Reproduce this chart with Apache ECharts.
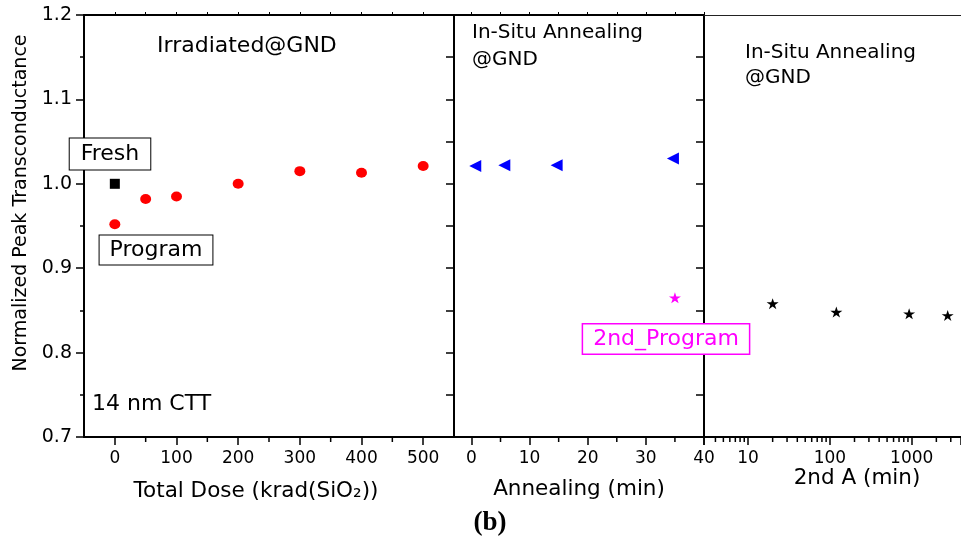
<!DOCTYPE html>
<html>
<head>
<meta charset="utf-8">
<script src="https://cdn.jsdelivr.net/npm/echarts@6/dist/echarts.min.js"></script>
<style>
  html, body { margin: 0; padding: 0; background: #fff; }
  #chart { width: 961px; height: 545px; }
</style>
</head>
<body>
<div id="chart"></div>
<script>
// ---- Panel 1: total-dose irradiation ----
const freshDose = [0];
const freshGm = [1.000];
const doseKrad = [0, 50, 100, 200, 300, 400, 500];
const doseGm = [0.952, 0.982, 0.985, 1.000, 1.015, 1.013, 1.021];

// ---- Panel 2: in-situ annealing ----
const annealMin = [1, 6, 15, 35];
const annealGm = [1.021, 1.022, 1.022, 1.030];
const reprogMin = [35];
const reprogGm = [0.865];

// ---- Panel 3: second anneal, log time ----
const anneal2Min = [20, 120, 930, 2750];
const anneal2Gm = [0.858, 0.848, 0.846, 0.844];

// ---- Tick values ----
const doseTicks = [0, 100, 200, 300, 400, 500];
const doseMinorTicks = [50, 150, 250, 350, 450];
const annealTicks = [0, 10, 20, 30, 40];
const annealMinorTicks = [5, 15, 25, 35];
const logTicks = [10, 100, 1000];
const logMinorTicks = [4, 5, 6, 7, 8, 9, 20, 30, 40, 50, 60, 70, 80, 90,
                       200, 300, 400, 500, 600, 700, 800, 900, 2000, 3000];
const gmMin = 0.7, gmMax = 1.2;

const FONT = 'DejaVu Sans';
const chart = echarts.init(document.getElementById('chart'));

const axisLine = { show: true, onZero: false, lineStyle: { color: '#000', width: 2 } };
const tickLine = { color: '#000', width: 1.5 };
const tickFont = { color: '#000', fontFamily: FONT, fontSize: 17 };

// short minor tick marks below a panel's x axis, placed through that axis' scale
function minorTicks(xi, yi, values) {
  return {
    type: 'custom', xAxisIndex: xi, yAxisIndex: yi, silent: true, clip: false, z: 5,
    data: values.map(v => [v, gmMin]),
    renderItem: (params, api) => {
      const p = api.coord([api.value(0), api.value(1)]);
      return {
        type: 'line',
        shape: { x1: p[0], y1: p[1], x2: p[0], y2: p[1] + 5 },
        style: { stroke: '#000', lineWidth: 1.5 }
      };
    }
  };
}

const star = 'path://M50,0 L61.2,34.5 L97.6,34.5 L68.2,55.9 L79.4,90.5 L50,69.1 L20.6,90.5 L31.8,55.9 L2.4,34.5 L38.8,34.5 Z';

function txt(text, x, y, size, extra) {
  return {
    type: 'text', x: x, y: y, z: 100,
    style: Object.assign({
      text: text, fontFamily: FONT, fontSize: size, fill: '#000',
      align: 'left', verticalAlign: 'middle'
    }, extra || {})
  };
}

const gridBase = { top: 15, height: 422, containLabel: false, outerBoundsMode: 'none' };

const option = {
  backgroundColor: '#fff',
  animation: false,
  grid: [
    Object.assign({ left: 84, width: 370 }, gridBase),
    Object.assign({ left: 454, width: 250 }, gridBase),
    Object.assign({ left: 704, width: 257 }, gridBase)
  ],
  xAxis: [
    { gridIndex: 0, type: 'value', position: 'bottom', min: -50, max: 550,
      axisLine: axisLine,
      axisTick: { show: true, length: 8, lineStyle: tickLine, customValues: doseTicks },
      axisLabel: Object.assign({ margin: 13, customValues: doseTicks }, tickFont),
      splitLine: { show: false } },
    { gridIndex: 0, type: 'value', position: 'top', min: -50, max: 550,
      axisLine: axisLine,
      axisTick: { show: true, length: 3, lineStyle: { color: '#000', width: 1 },
                  customValues: doseTicks.concat(doseMinorTicks) },
      axisLabel: { show: false }, splitLine: { show: false } },
    { gridIndex: 1, type: 'value', position: 'bottom', min: -3, max: 40,
      axisLine: axisLine,
      axisTick: { show: true, length: 8, lineStyle: tickLine, customValues: annealTicks },
      axisLabel: Object.assign({ margin: 13, customValues: annealTicks }, tickFont),
      splitLine: { show: false } },
    { gridIndex: 1, type: 'value', position: 'top', min: -3, max: 40,
      axisLine: axisLine,
      axisTick: { show: true, length: 3, lineStyle: { color: '#000', width: 1 },
                  customValues: annealTicks.concat(annealMinorTicks) },
      axisLabel: { show: false }, splitLine: { show: false } },
    { gridIndex: 2, type: 'log', logBase: 10, position: 'bottom', min: 2.9, max: 4000,
      axisLine: axisLine,
      axisTick: { show: true, length: 8, lineStyle: tickLine },
      axisLabel: Object.assign({
        margin: 13,
        formatter: v => {
          const hit = logTicks.find(t => Math.abs(t - v) / t < 1e-6);
          return hit ? String(hit) : '';
        }
      }, tickFont),
      splitLine: { show: false } },
    { gridIndex: 2, type: 'log', logBase: 10, position: 'top', min: 2.9, max: 4000,
      axisLine: { show: true, lineStyle: { color: '#222', width: 1.2 } },
      axisTick: { show: false }, axisLabel: { show: false }, splitLine: { show: false } }
  ],
  yAxis: [
    { gridIndex: 0, type: 'value', position: 'left', min: gmMin, max: gmMax, interval: 0.1,
      axisLine: axisLine,
      axisTick: { show: true, length: 8, lineStyle: tickLine },
      minorTick: { show: true, splitNumber: 2, length: 4, lineStyle: tickLine },
      axisLabel: Object.assign({ margin: 12, formatter: v => v.toFixed(1) }, tickFont, { fontSize: 19 }),
      splitLine: { show: false }, minorSplitLine: { show: false } },
    { gridIndex: 0, type: 'value', position: 'right', min: gmMin, max: gmMax, interval: 0.05,
      axisLine: axisLine,
      axisTick: { show: true, inside: true, length: 7, lineStyle: tickLine },
      axisLabel: { show: false }, splitLine: { show: false } },
    { gridIndex: 1, type: 'value', position: 'left', min: gmMin, max: gmMax, interval: 0.05,
      axisLine: axisLine,
      axisTick: { show: true, length: 8, lineStyle: tickLine },
      axisLabel: { show: false }, splitLine: { show: false } },
    { gridIndex: 1, type: 'value', position: 'right', min: gmMin, max: gmMax, interval: 0.05,
      axisLine: axisLine,
      axisTick: { show: true, inside: true, length: 8, lineStyle: tickLine },
      axisLabel: { show: false }, splitLine: { show: false } },
    { gridIndex: 2, type: 'value', position: 'left', min: gmMin, max: gmMax, interval: 0.05,
      axisLine: axisLine,
      axisTick: { show: true, length: 8, lineStyle: tickLine },
      axisLabel: { show: false }, splitLine: { show: false } }
  ],
  series: [
    { name: 'Fresh', type: 'scatter', xAxisIndex: 0, yAxisIndex: 0,
      data: freshDose.map((x, i) => [x, freshGm[i]]),
      symbol: 'rect', symbolSize: 10, itemStyle: { color: '#000', opacity: 1 }, z: 10 },
    { name: 'Irradiated', type: 'scatter', xAxisIndex: 0, yAxisIndex: 0,
      data: doseKrad.map((x, i) => [x, doseGm[i]]),
      symbol: 'circle', symbolSize: [11, 10], itemStyle: { color: '#ff0000', opacity: 1 }, z: 10 },
    { name: 'Annealing', type: 'scatter', xAxisIndex: 2, yAxisIndex: 2,
      data: annealMin.map((x, i) => [x, annealGm[i]]),
      symbol: 'triangle', symbolRotate: 90, symbolSize: 12, symbolOffset: [-2, 0],
      itemStyle: { color: '#0000ff', opacity: 1 }, z: 10 },
    { name: '2nd_Program', type: 'scatter', xAxisIndex: 2, yAxisIndex: 2,
      data: reprogMin.map((x, i) => [x, reprogGm[i]]),
      symbol: star, symbolSize: [12, 11], itemStyle: { color: '#ff00ff', opacity: 1 }, z: 10 },
    { name: '2nd Anneal', type: 'scatter', xAxisIndex: 4, yAxisIndex: 4,
      data: anneal2Min.map((x, i) => [x, anneal2Gm[i]]),
      symbol: star, symbolSize: [12, 11], itemStyle: { color: '#000', opacity: 1 }, z: 10 },
    minorTicks(0, 0, doseMinorTicks),
    minorTicks(2, 2, annealMinorTicks),
    minorTicks(4, 4, logMinorTicks)
  ],
  graphic: [
    txt('Irradiated@GND', 157, 46, 22),
    txt('In-Situ Annealing', 472, 33, 20),
    txt('@GND', 472, 60, 20),
    txt('In-Situ Annealing', 745, 53, 20),
    txt('@GND', 745, 78, 20),
    txt('14 nm CTT', 92, 404, 22),
    txt('Fresh', 110, 154, 22, {
      align: 'center', backgroundColor: '#fff', borderColor: '#000', borderWidth: 1,
      padding: [5, 11, 4, 11] }),
    txt('Program', 156, 250, 22, {
      align: 'center', backgroundColor: '#fff', borderColor: '#000', borderWidth: 1,
      padding: [4, 10, 3, 10] }),
    txt('2nd_Program', 666, 339, 22, {
      align: 'center', fill: '#ff00ff', backgroundColor: '#fff', borderColor: '#ff00ff',
      borderWidth: 1.5, padding: [4, 10, 3, 10] }),
    {
      type: 'text', x: 21, y: 203, rotation: Math.PI / 2, z: 100,
      style: { text: 'Normalized Peak Transconductance', fontFamily: FONT, fontSize: 19,
               fill: '#000', align: 'center', verticalAlign: 'middle' }
    },
    txt('Total Dose (krad(SiO\u2082))', 256, 491, 21.5, { align: 'center' }),
    txt('Annealing (min)', 579, 489, 21.5, { align: 'center' }),
    txt('2nd A (min)', 857, 478, 21.5, { align: 'center' }),
    txt('(b)', 490, 523, 27, { align: 'center', fontFamily: 'Liberation Serif', fontWeight: 'bold' })
  ]
};

chart.setOption(option);
</script>
</body>
</html>
